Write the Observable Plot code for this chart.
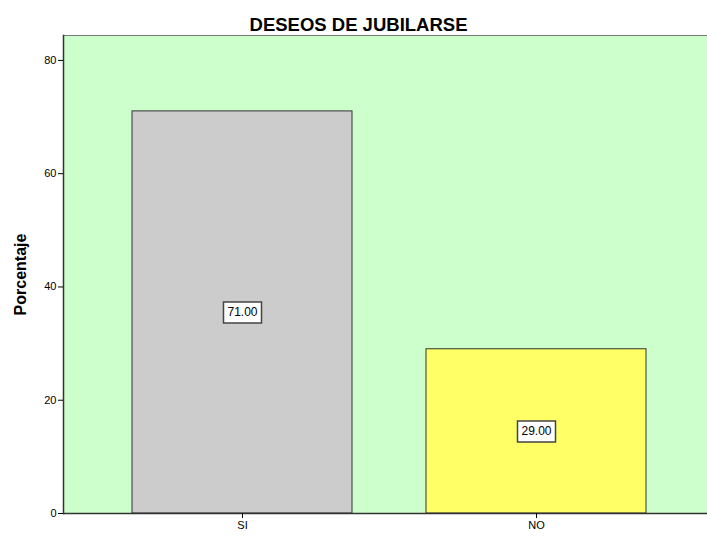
<!DOCTYPE html>
<html>
<head>
<meta charset="utf-8">
<script src="https://cdn.jsdelivr.net/npm/d3@7"></script>
<script src="https://cdn.jsdelivr.net/npm/@observablehq/plot@0.6"></script>
<style>
  html, body { margin: 0; padding: 0; background: #fff; }
  #chart svg { display: block; }
</style>
</head>
<body>
<div id="chart"></div>
<script>
const categories = ["SI", "NO"];
const values = [71.00, 29.00];
const barColors = ["#cccccc", "#ffff66"];
const yTicks = [0, 20, 40, 60, 80];
const title = "DESEOS DE JUBILARSE";
const yLabel = "Porcentaje";

const data = categories.map((c, i) => ({ cat: c, value: values[i], color: barColors[i] }));

const boxSymbol = {
  draw(context, size) {
    context.moveTo(-19, -10.5);
    context.lineTo(19, -10.5);
    context.lineTo(19, 10.5);
    context.lineTo(-19, 10.5);
    context.closePath();
  }
};

const chart = Plot.plot({
  width: 707,
  height: 536,
  marginTop: 35,
  marginBottom: 23,
  marginLeft: 63,
  marginRight: 0,
  style: { fontFamily: "'Liberation Sans', Arial, sans-serif", fontSize: "11px", color: "#000", background: "#fff" },
  x: { domain: categories, paddingInner: 0.252, paddingOuter: 0.221, align: 0.53, label: null },
  y: { domain: [0, 84.4], label: null },
  marks: [
    Plot.frame({ fill: "#ccffcc", stroke: "#777" }),
    Plot.barY(data, { x: "cat", y: "value", fill: "color", stroke: "#333", strokeWidth: 1 }),
    Plot.frame({ anchor: "bottom", stroke: "#333", strokeWidth: 1.5 }),
    Plot.frame({ anchor: "left", stroke: "#333", strokeWidth: 1.5 }),
    Plot.axisY({ ticks: yTicks, tickSize: 5, tickPadding: 2, label: null, fontSize: 11 }),
    Plot.axisX({ tickSize: 5, tickPadding: 3, label: null, fontSize: 11 }),
    Plot.dot(data, { x: "cat", y: d => d.value / 2, symbol: boxSymbol, r: 10, fill: "white", stroke: "#444", strokeWidth: 1.5 }),
    Plot.text(data, { x: "cat", y: d => d.value / 2, text: d => d.value.toFixed(2), fontSize: 12, fill: "#000" }),
    Plot.text([yLabel], { frameAnchor: "left", textAnchor: "middle", rotate: -90, dx: -43, fontSize: 16, fontWeight: "bold", fill: "#000" }),
    Plot.text([title], { frameAnchor: "top", lineAnchor: "bottom", dy: -5, dx: -27, fontSize: 18.5, fontWeight: "bold", fill: "#000" })
  ]
});

document.getElementById("chart").appendChild(chart);
</script>
</body>
</html>
